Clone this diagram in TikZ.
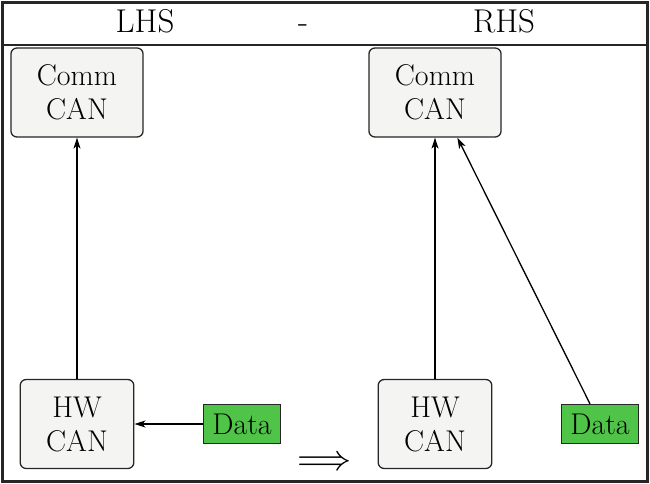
\documentclass[tikz,border=0pt]{standalone}
\usepackage{graphicx}
\usepackage{unicode-math}
\usetikzlibrary{arrows.meta}
\definecolor{boxgray}{RGB}{244,244,243}
\definecolor{datagreen}{RGB}{80,196,72}
\tikzset{
  canbox/.style={draw=black!85, line width=1.3pt, fill=boxgray, rounded corners=6pt,
    align=center, inner xsep=26pt, minimum height=89pt,
    font=\fontsize{30}{34}\selectfont},
  databox/.style={draw=black!85, line width=1.3pt, fill=datagreen,
    inner xsep=9pt, minimum height=39pt, font=\fontsize{30}{34}\selectfont},
  hdr/.style={font={\fontsize{33}{40}\selectfont}, anchor=base},
  conn/.style={line width=1.3pt, -{Stealth[length=11pt,width=7pt,inset=3pt]}},
}
\begin{document}
\begin{tikzpicture}[x=1pt,y=-1pt]
\useasboundingbox (0,0) rectangle (650,484);
\draw[line width=2.8pt, black!85] (2.5,2.5) rectangle (647.5,481.5);
\draw[line width=2.8pt, black!85] (2.5,45) -- (647.5,45);
\node[hdr] (lhs) at (145,33) {LHS};
\node[hdr] (dash) at (303,33) {-};
\node[hdr] (rhs) at (504,33) {RHS};

\node[canbox] (comm1) at (77,92.5) {Comm\\CAN};
\node[canbox] (hw1) at (77,424) {HW\\CAN};
\node[databox] (data1) at (242,424) {Data};

\node[canbox] (comm2) at (435,92.5) {Comm\\CAN};
\node[canbox] (hw2) at (435,424) {HW\\CAN};
\node[databox] (data2) at (600,424) {Data};

\node[inner sep=0pt] (impl) at (325,461) {\resizebox{54pt}{!}{$\Longrightarrow$}};

\draw[conn] (hw1) -- (comm1);
\draw[conn] (data1) -- (hw1);
\draw[conn] (hw2) -- (comm2);
\draw[conn] (data2) -- (comm2);
\end{tikzpicture}
\end{document}
